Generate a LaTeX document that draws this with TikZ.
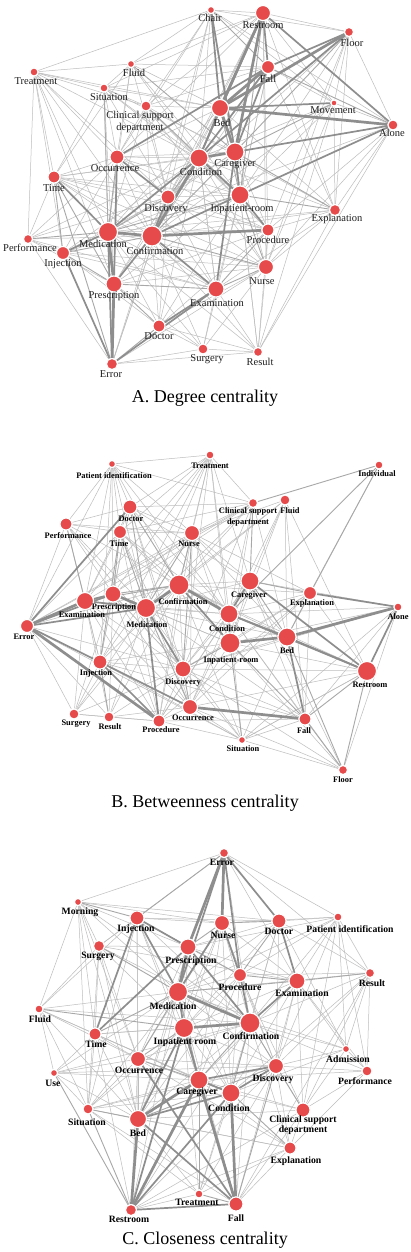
\documentclass[tikz,border=0pt]{standalone}
\usepackage{fontspec}
\setmainfont{Liberation Serif}
\usetikzlibrary{backgrounds}
\definecolor{nodered}{HTML}{E64A4A}
\definecolor{ethin}{HTML}{BDBDBD}
\definecolor{emid}{HTML}{A8A8A8}
\definecolor{ethick}{HTML}{8E8E8E}
\newcommand\mknode[8]{\node[dot=#4] (#1) at (#2,#3) {}; \node[#7] (#1L) at (#5,#6) {#8};}
\begin{document}
\begin{tikzpicture}[x=1pt,y=-1pt,
  dot/.style={circle, fill=nodered, draw=white, line width=1.1pt, inner sep=0pt, minimum size=#1},
  la/.style={font=\fontsize{10.5}{12}\selectfont, inner sep=0pt, align=center, text=black!88},
  lb/.style={font=\bfseries\fontsize{8.4}{10.5}\selectfont, inner sep=0pt, align=center},
  lc/.style={font=\bfseries\fontsize{9.7}{8.6}\selectfont, inner sep=0pt, align=center},
  ttl/.style={font=\fontsize{18}{20}\selectfont, inner sep=0pt},
  ea/.style={draw=ethin, line width=0.5pt},
  eb/.style={draw=emid, line width=0.9pt},
  ec/.style={draw=ethick, line width=1.7pt},
  ed/.style={draw=ethick, line width=2.7pt}]
\useasboundingbox (0,0) rectangle (410,1252);
\begin{scope}[on background layer]
\fill[white] (0,0) rectangle (410,1252);
\end{scope}

% ---------------- Panel A ----------------
\mknode{aChair}{211}{10}{7}{210}{18}{la}{Chair}
\mknode{aRestroom}{263}{13}{15}{263}{25}{la}{Restroom}
\mknode{aFloor}{349}{32}{9}{352}{43}{la}{Floor}
\mknode{aFall}{268}{67}{13}{268}{79}{la}{Fall}
\mknode{aMovement}{334}{103}{6}{333}{110}{la}{Movement}
\mknode{aAlone}{393}{125}{10}{392}{133}{la}{Alone}
\mknode{aBed}{220}{108}{17}{222}{123}{la}{Bed}
\mknode{aCaregiver}{235}{152}{18}{235}{164}{la}{Caregiver}
\mknode{aCondition}{199}{158}{18}{201}{172}{la}{Condition}
\mknode{aInpatient}{240}{195}{18}{242}{209}{la}{Inpatient-room}
\mknode{aExplanation}{335}{210}{11}{337}{219}{la}{Explanation}
\mknode{aProcedure}{268}{230}{12}{268}{240}{la}{Procedure}
\mknode{aNurse}{266}{267}{15}{262}{281}{la}{Nurse}
\mknode{aExamination}{216}{289}{16}{217}{303}{la}{Examination}
\mknode{aResult}{258}{352}{9}{260}{362}{la}{Result}
\mknode{aSurgery}{203}{349}{10}{207}{359}{la}{Surgery}
\mknode{aDoctor}{159}{326}{12}{159}{336}{la}{Doctor}
\mknode{aError}{112}{364}{11}{111}{374}{la}{Error}
\mknode{aPrescription}{114}{284}{16}{114}{296}{la}{Prescription}
\mknode{aInjection}{63}{253}{13}{63}{264}{la}{Injection}
\mknode{aPerformance}{28}{239}{9}{30}{248}{la}{Performance}
\mknode{aMedication}{108}{232}{19}{103}{244}{la}{Medication}
\mknode{aConfirmation}{152}{236}{20}{155}{251}{la}{Confirmation}
\mknode{aDiscovery}{168}{197}{14}{166}{209}{la}{Discovery}
\mknode{aTime}{54}{177}{12}{54}{188}{la}{Time}
\mknode{aOccurrence}{117}{157}{14}{115}{168}{la}{Occurrence}
\mknode{aClinical}{146}{106}{10}{140}{122}{la}{Clinical support\\department}
\mknode{aSituation}{104}{88}{8}{109}{97}{la}{Situation}
\mknode{aFluid}{131}{64}{7}{134}{73}{la}{Fluid}
\mknode{aTreatment}{34}{72}{8}{36}{81}{la}{Treatment}
\node[ttl] (titleA) at (205,398) {A. Degree centrality};

\begin{scope}[on background layer]
\foreach \u/\v in {aTreatment/aChair, aTreatment/aSituation, aTreatment/aClinical, aTreatment/aTime, aTreatment/aPerformance, aTreatment/aMedication, aTreatment/aOccurrence, aTreatment/aInjection, aTreatment/aCondition, aTreatment/aDiscovery, aTreatment/aFluid, aTreatment/aPrescription,
aFluid/aRestroom, aFluid/aBed, aFluid/aSituation, aFluid/aOccurrence, aFluid/aTime, aFluid/aCondition, aFluid/aChair, aFluid/aFall, aFluid/aInpatient,
aSituation/aTime, aSituation/aBed, aSituation/aFall, aSituation/aRestroom, aSituation/aCondition, aSituation/aOccurrence, aSituation/aMedication, aSituation/aDiscovery, aSituation/aInpatient, aSituation/aClinical,
aClinical/aBed, aClinical/aConfirmation, aClinical/aDiscovery, aClinical/aCondition, aClinical/aChair, aClinical/aRestroom, aClinical/aFall, aClinical/aMedication, aClinical/aProcedure, aClinical/aExplanation,
aChair/aRestroom, aChair/aFloor, aChair/aCondition, aChair/aMovement, aChair/aInpatient, aChair/aOccurrence, aChair/aAlone,
aRestroom/aFloor, aRestroom/aMovement, aRestroom/aConfirmation, aRestroom/aExplanation, aRestroom/aNurse, aRestroom/aProcedure, aRestroom/aDiscovery,
aFloor/aAlone, aFloor/aMovement, aFloor/aInpatient, aFloor/aExplanation, aFloor/aProcedure, aFloor/aDiscovery, aFloor/aNurse,
aMovement/aFall, aMovement/aInpatient, aMovement/aNurse, aMovement/aResult, aMovement/aCondition, aMovement/aAlone, aMovement/aExplanation,
aAlone/aExplanation, aAlone/aProcedure, aAlone/aCondition, aAlone/aNurse, aAlone/aResult,
aExplanation/aProcedure, aExplanation/aNurse, aExplanation/aResult, aExplanation/aExamination, aExplanation/aCondition, aExplanation/aConfirmation, aExplanation/aFall,
aResult/aNurse, aResult/aExamination, aResult/aSurgery, aResult/aDoctor, aResult/aConfirmation, aResult/aProcedure, aResult/aMedication, aResult/aInpatient, aResult/aError,
aSurgery/aError, aSurgery/aExamination, aSurgery/aDoctor, aSurgery/aConfirmation, aSurgery/aPrescription, aSurgery/aNurse, aSurgery/aMedication,
aDoctor/aConfirmation, aDoctor/aNurse, aDoctor/aMedication, aDoctor/aInjection, aDoctor/aProcedure, aDoctor/aDiscovery,
aError/aConfirmation, aError/aNurse, aError/aPerformance, aError/aDiscovery,
aPerformance/aTime, aPerformance/aInjection, aPerformance/aConfirmation, aPerformance/aPrescription, aPerformance/aOccurrence, aPerformance/aDiscovery, aPerformance/aCondition,
aInjection/aDiscovery, aInjection/aOccurrence, aInjection/aExamination, aInjection/aInpatient,
aTime/aOccurrence, aTime/aDiscovery, aTime/aConfirmation, aTime/aCondition, aTime/aInpatient, aTime/aCaregiver, aTime/aProcedure,
aOccurrence/aCondition, aOccurrence/aConfirmation, aOccurrence/aCaregiver, aOccurrence/aInpatient, aOccurrence/aBed, aOccurrence/aRestroom,
aDiscovery/aCaregiver, aDiscovery/aInpatient, aDiscovery/aExamination, aDiscovery/aProcedure, aDiscovery/aBed, aDiscovery/aNurse, aDiscovery/aPrescription,
aNurse/aCaregiver, aNurse/aCondition, aNurse/aProcedure, aNurse/aPrescription, aNurse/aMedication,
aProcedure/aCaregiver, aProcedure/aMedication, aProcedure/aPrescription, aProcedure/aCondition,
aExamination/aMedication, aExamination/aInpatient, aExamination/aCondition,
aInpatient/aPrescription, aInpatient/aFall, aCondition/aPrescription, aCondition/aExamination,
aCaregiver/aMedication, aBed/aConfirmation, aBed/aMedication, aFall/aInpatient, aFall/aConfirmation,
aTreatment/aBed, aTreatment/aConfirmation, aFluid/aMedication, aFluid/aDiscovery, aSituation/aPrescription, aSituation/aCaregiver, aClinical/aOccurrence, aClinical/aNurse, aChair/aDiscovery, aChair/aConfirmation, aPerformance/aExamination, aInjection/aNurse, aInjection/aCondition, aTime/aNurse, aTime/aExamination, aOccurrence/aExamination, aOccurrence/aProcedure, aDiscovery/aError, aDoctor/aCondition, aDoctor/aInpatient, aSurgery/aInpatient, aResult/aCaregiver, aExplanation/aMedication, aExplanation/aBed, aMovement/aConfirmation, aAlone/aMedication}
  \draw[ea] (\u) -- (\v);
\foreach \u/\v in {aSituation/aError, aTime/aPrescription, aConfirmation/aNurse, aMedication/aInpatient, aDiscovery/aMedication, aInjection/aPrescription, aPrescription/aDoctor, aPrescription/aExamination, aError/aDoctor, aTime/aError, aMovement/aCaregiver, aFloor/aCaregiver, aFall/aAlone, aCaregiver/aExplanation, aInpatient/aExplanation, aProcedure/aExamination, aNurse/aExamination, aNurse/aInpatient, aMedication/aOccurrence, aRestroom/aInpatient, aChair/aFall, aFluid/aCaregiver, aClinical/aInpatient, aCondition/aDiscovery, aInjection/aConfirmation, aPerformance/aMedication, aOccurrence/aPrescription, aBed/aInpatient, aInjection/aTime, aConfirmation/aCaregiver}
  \draw[eb] (\u) -- (\v);
\foreach \u/\v in {aRestroom/aFall, aRestroom/aAlone, aFloor/aCondition, aFloor/aFall, aFall/aCaregiver, aFall/aCondition, aBed/aCondition, aBed/aMovement, aCaregiver/aAlone, aInpatient/aAlone, aChair/aBed, aChair/aCaregiver, aOccurrence/aFall, aOccurrence/aError, aMedication/aError, aConfirmation/aExamination, aConfirmation/aPrescription, aDoctor/aExamination, aError/aInjection, aTime/aMedication, aDiscovery/aOccurrence, aConfirmation/aInpatient, aCondition/aInpatient, aMedication/aInjection, aExamination/aCaregiver, aError/aExamination, aCondition/aMedication, aDiscovery/aConfirmation, aRestroom/aCondition, aCaregiver/aInpatient, aProcedure/aInpatient}
  \draw[ec] (\u) -- (\v);
\foreach \u/\v in {aRestroom/aBed, aRestroom/aCaregiver, aFloor/aBed, aFall/aBed, aBed/aAlone, aMedication/aPrescription, aMedication/aConfirmation, aPrescription/aError, aConfirmation/aProcedure, aCondition/aCaregiver, aBed/aCaregiver, aCondition/aConfirmation}
  \draw[ed] (\u) -- (\v);
\end{scope}

% ---------------- Panel B ----------------
\mknode{bPatientId}{112}{464}{7}{114}{476}{lb}{Patient identification}
\mknode{bTreatment}{210}{455}{8}{210}{466}{lb}{Treatment}
\mknode{bIndividual}{379}{465}{8}{377}{474}{lb}{Individual}
\mknode{bClinical}{253}{503}{9}{248}{517}{lb}{Clinical support\\department}
\mknode{bFluid}{285}{500}{10}{290}{511}{lb}{Fluid}
\mknode{bDoctor}{130}{507}{14}{131}{519}{lb}{Doctor}
\mknode{bPerformance}{66}{524}{12}{68}{536}{lb}{Performance}
\mknode{bTime}{120}{532}{13}{119}{544}{lb}{Time}
\mknode{bNurse}{192}{533}{15}{189}{544}{lb}{Nurse}
\mknode{bConfirmation}{179}{585}{20}{183}{602}{lb}{Confirmation}
\mknode{bCaregiver}{250}{581}{18}{249}{596}{lb}{Caregiver}
\mknode{bExplanation}{310}{593}{13}{312}{603}{lb}{Explanation}
\mknode{bAlone}{398}{607}{8}{398}{617}{lb}{Alone}
\mknode{bExamination}{85}{601}{17}{82}{615}{lb}{Examination}
\mknode{bPrescription}{113}{594}{16}{114}{607}{lb}{Prescription}
\mknode{bMedication}{146}{608}{19}{147}{625}{lb}{Medication}
\mknode{bError}{27}{626}{13}{24}{637}{lb}{Error}
\mknode{bCondition}{229}{614}{18}{227}{629}{lb}{Condition}
\mknode{bInpatient}{230}{643}{20}{231}{660}{lb}{Inpatient-room}
\mknode{bBed}{287}{637}{18}{287}{651}{lb}{Bed}
\mknode{bRestroom}{367}{671}{19}{370}{685}{lb}{Restroom}
\mknode{bInjection}{100}{662}{14}{96}{673}{lb}{Injection}
\mknode{bDiscovery}{183}{669}{16}{183}{682}{lb}{Discovery}
\mknode{bOccurrence}{190}{707}{15}{193}{718}{lb}{Occurrence}
\mknode{bSurgery}{74}{714}{10}{76}{724}{lb}{Surgery}
\mknode{bResult}{109}{717}{10}{110}{727}{lb}{Result}
\mknode{bProcedure}{159}{721}{12}{161}{730}{lb}{Procedure}
\mknode{bFall}{305}{719}{12}{304}{731}{lb}{Fall}
\mknode{bSituation}{242}{740}{7}{243}{749}{lb}{Situation}
\mknode{bFloor}{343}{770}{9}{343}{780}{lb}{Floor}
\node[ttl] (titleB) at (205,803) {B. Betweenness centrality};

\begin{scope}[on background layer]
\foreach \u/\v in {bPatientId/bDoctor, bPatientId/bTime, bPatientId/bPerformance, bPatientId/bNurse, bPatientId/bConfirmation, bPatientId/bExamination, bPatientId/bPrescription, bPatientId/bMedication, bPatientId/bTreatment, bPatientId/bError, bPatientId/bClinical,
bTreatment/bDoctor, bTreatment/bTime, bTreatment/bNurse, bTreatment/bConfirmation, bTreatment/bClinical, bTreatment/bMedication, bTreatment/bCondition, bTreatment/bCaregiver, bTreatment/bInjection, bTreatment/bDiscovery, bTreatment/bPrescription,
bClinical/bConfirmation, bClinical/bCondition, bClinical/bInpatient, bClinical/bNurse, bClinical/bDoctor, bClinical/bTime, bClinical/bBed, bClinical/bDiscovery, bClinical/bMedication, bClinical/bPrescription, bClinical/bExamination, bClinical/bError,
bFluid/bCaregiver, bFluid/bBed, bFluid/bCondition, bFluid/bInpatient, bFluid/bRestroom, bFluid/bConfirmation, bFluid/bFall, bFluid/bNurse, bFluid/bMedication,
bDoctor/bTime, bDoctor/bNurse, bDoctor/bPrescription, bDoctor/bExamination, bDoctor/bDiscovery, bDoctor/bInjection, bDoctor/bCaregiver, bDoctor/bPerformance,
bPerformance/bTime, bPerformance/bPrescription, bPerformance/bMedication, bPerformance/bError, bPerformance/bInjection, bPerformance/bConfirmation, bPerformance/bNurse,
bTime/bNurse, bTime/bConfirmation, bTime/bExamination, bTime/bDiscovery, bTime/bProcedure, bTime/bOccurrence, bTime/bCondition, bTime/bError,
bNurse/bCaregiver, bNurse/bCondition, bNurse/bInpatient, bNurse/bPrescription, bNurse/bBed, bNurse/bProcedure, bNurse/bExplanation, bNurse/bError, bNurse/bInjection,
bCaregiver/bInpatient, bCaregiver/bConfirmation, bCaregiver/bDiscovery, bCaregiver/bAlone, bCaregiver/bFall, bCaregiver/bMedication, bCaregiver/bOccurrence,
bExplanation/bCondition, bExplanation/bInpatient, bExplanation/bRestroom, bExplanation/bConfirmation, bExplanation/bProcedure, bExplanation/bOccurrence, bExplanation/bFall,
bAlone/bCondition, bAlone/bInpatient, bAlone/bFall, bAlone/bFloor, bAlone/bSituation,
bExamination/bInjection, bExamination/bResult, bExamination/bSurgery, bExamination/bProcedure, bExamination/bDiscovery,
bError/bSurgery, bError/bResult, bError/bConfirmation, bError/bDiscovery, bError/bOccurrence,
bSurgery/bInjection, bSurgery/bResult, bSurgery/bMedication, bSurgery/bPrescription, bSurgery/bProcedure, bSurgery/bConfirmation,
bResult/bProcedure, bResult/bMedication, bResult/bDiscovery, bResult/bPrescription, bResult/bConfirmation,
bProcedure/bDiscovery, bProcedure/bOccurrence, bProcedure/bConfirmation, bProcedure/bCondition, bProcedure/bSituation, bProcedure/bPrescription,
bSituation/bCondition, bSituation/bDiscovery, bSituation/bBed, bSituation/bFall, bSituation/bMedication, bSituation/bConfirmation, bSituation/bInjection, bSituation/bOccurrence, bSituation/bRestroom, bSituation/bError,
bFloor/bInpatient, bFloor/bOccurrence, bFloor/bSituation, bFloor/bCaregiver, bFloor/bCondition,
bRestroom/bInpatient, bRestroom/bSituation, bRestroom/bDiscovery, bRestroom/bOccurrence,
bInpatient/bOccurrence, bInpatient/bMedication, bInpatient/bInjection, bInpatient/bPrescription,
bDiscovery/bConfirmation, bDiscovery/bCondition, bDiscovery/bInjection, bDiscovery/bPrescription,
bInjection/bConfirmation, bInjection/bPrescription, bFall/bCondition, bFall/bDiscovery, bFall/bMedication, bBed/bDiscovery, bBed/bConfirmation, bBed/bMedication, bCondition/bMedication, bCondition/bOccurrence, bIndividual/bBed,
bPatientId/bInjection, bPatientId/bCondition, bTreatment/bExamination, bTreatment/bInpatient, bDoctor/bCondition, bDoctor/bOccurrence, bTime/bInpatient, bNurse/bOccurrence, bPerformance/bDiscovery, bExamination/bOccurrence, bExamination/bCondition, bPrescription/bDiscovery, bPrescription/bOccurrence, bSurgery/bDiscovery, bResult/bOccurrence, bCaregiver/bProcedure, bExplanation/bDiscovery, bRestroom/bConfirmation, bAlone/bDiscovery, bFloor/bDiscovery, bFall/bProcedure, bFall/bInjection}
  \draw[ea] (\u) -- (\v);
\foreach \u/\v in {bFall/bFloor, bRestroom/bFloor, bInpatient/bFall, bIndividual/bExplanation, bIndividual/bClinical, bIndividual/bCondition, bCaregiver/bExplanation, bTime/bInjection, bDoctor/bMedication, bPerformance/bExamination, bNurse/bMedication, bDiscovery/bOccurrence, bMedication/bOccurrence, bTime/bPrescription, bTime/bMedication, bNurse/bConfirmation, bDiscovery/bInpatient, bPrescription/bConfirmation, bExamination/bConfirmation, bInjection/bResult, bNurse/bDiscovery, bCaregiver/bBed, bBed/bFloor, bFall/bRestroom, bClinical/bCaregiver, bSituation/bInpatient, bExplanation/bBed, bDoctor/bConfirmation}
  \draw[eb] (\u) -- (\v);
\foreach \u/\v in {bError/bPrescription, bError/bMedication, bError/bInjection, bError/bDoctor, bExamination/bPrescription, bMedication/bDiscovery, bMedication/bProcedure, bInjection/bProcedure, bCondition/bBed, bBed/bRestroom, bRestroom/bAlone, bCaregiver/bRestroom, bBed/bFall, bExplanation/bAlone, bCondition/bRestroom, bConfirmation/bInpatient, bCondition/bInpatient, bCaregiver/bCondition, bInjection/bOccurrence, bExamination/bMedication}
  \draw[ec] (\u) -- (\v);
\foreach \u/\v in {bError/bExamination, bError/bProcedure, bPrescription/bMedication, bInpatient/bBed, bBed/bAlone, bOccurrence/bFall, bMedication/bConfirmation, bConfirmation/bCondition}
  \draw[ed] (\u) -- (\v);
\end{scope}

% ---------------- Panel C ----------------
\mknode{cError}{224}{853}{9}{222}{862}{lc}{Error}
\mknode{cMorning}{78}{902}{7}{80}{912}{lc}{Morning}
\mknode{cInjection}{137}{918}{14}{136}{929}{lc}{Injection}
\mknode{cNurse}{222}{923}{15}{223}{935}{lc}{Nurse}
\mknode{cDoctor}{279}{921}{14}{279}{931}{lc}{Doctor}
\mknode{cPatientId}{338}{917}{8}{350}{929}{lc}{Patient identification}
\mknode{cSurgery}{99}{946}{11}{98}{956}{lc}{Surgery}
\mknode{cPrescription}{188}{947}{16}{191}{961}{lc}{Prescription}
\mknode{cProcedure}{240}{975}{13}{240}{987}{lc}{Procedure}
\mknode{cExamination}{297}{981}{16}{302}{993}{lc}{Examination}
\mknode{cResult}{370}{973}{9}{372}{983}{lc}{Result}
\mknode{cFluid}{39}{1009}{8}{40}{1019}{lc}{Fluid}
\mknode{cMedication}{178}{992}{19}{173}{1006}{lc}{Medication}
\mknode{cConfirmation}{250}{1023}{20}{251}{1036}{lc}{Confirmation}
\mknode{cInpatient}{184}{1028}{19}{185}{1042}{lc}{Inpatient room}
\mknode{cTime}{95}{1034}{12}{96}{1044}{lc}{Time}
\mknode{cUse}{54}{1073}{7}{53}{1083}{lc}{Use}
\mknode{cOccurrence}{138}{1059}{15}{139}{1070}{lc}{Occurrence}
\mknode{cAdmission}{346}{1049}{7}{348}{1059}{lc}{Admission}
\mknode{cPerformance}{367}{1071}{10}{365}{1081}{lc}{Performance}
\mknode{cDiscovery}{276}{1066}{15}{273}{1079}{lc}{Discovery}
\mknode{cCaregiver}{199}{1080}{18}{197}{1092}{lc}{Caregiver}
\mknode{cCondition}{231}{1093}{18}{229}{1108}{lc}{Condition}
\mknode{cClinical}{303}{1110}{14}{303}{1125}{lc}{Clinical support\\department}
\mknode{cSituation}{88}{1109}{10}{87}{1122}{lc}{Situation}
\mknode{cBed}{138}{1119}{17}{138}{1133}{lc}{Bed}
\mknode{cExplanation}{290}{1148}{12}{296}{1161}{lc}{Explanation}
\mknode{cTreatment}{199}{1194}{8}{197}{1202}{lc}{Treatment}
\mknode{cRestroom}{131}{1210}{11}{129}{1219}{lc}{Restroom}
\mknode{cFall}{236}{1204}{14}{236}{1218}{lc}{Fall}
\node[ttl] (titleC) at (205,1240) {C. Closeness centrality};

\begin{scope}[on background layer]
\foreach \u/\v in {cError/cPatientId, cError/cResult, cError/cExamination, cError/cMorning, cError/cSurgery, cError/cConfirmation,
cMorning/cSurgery, cMorning/cPrescription, cMorning/cNurse, cMorning/cDoctor, cMorning/cTime, cMorning/cFluid, cMorning/cMedication, cMorning/cSituation, cMorning/cOccurrence,
cInjection/cNurse, cInjection/cDoctor, cInjection/cSurgery, cInjection/cProcedure, cInjection/cConfirmation, cInjection/cOccurrence, cInjection/cSituation, cInjection/cBed, cInjection/cFluid,
cNurse/cConfirmation, cNurse/cExamination, cNurse/cCaregiver, cNurse/cCondition, cNurse/cPatientId, cNurse/cInpatient, cNurse/cBed,
cDoctor/cPatientId, cDoctor/cMedication, cDoctor/cConfirmation, cDoctor/cPrescription, cDoctor/cResult, cDoctor/cAdmission, cDoctor/cDiscovery,
cPatientId/cResult, cPatientId/cExamination, cPatientId/cProcedure, cPatientId/cConfirmation, cPatientId/cMedication, cPatientId/cAdmission, cPatientId/cPerformance, cPatientId/cPrescription,
cSurgery/cPrescription, cSurgery/cConfirmation, cSurgery/cTime, cSurgery/cFluid, cSurgery/cExamination, cSurgery/cInpatient, cSurgery/cOccurrence,
cPrescription/cExamination, cPrescription/cInpatient, cPrescription/cOccurrence, cPrescription/cBed, cPrescription/cCondition,
cProcedure/cMedication, cProcedure/cInpatient, cProcedure/cCaregiver, cProcedure/cDiscovery, cProcedure/cCondition, cProcedure/cResult,
cExamination/cAdmission, cExamination/cPerformance, cExamination/cDiscovery, cExamination/cInpatient, cExamination/cCondition, cExamination/cClinical,
cResult/cConfirmation, cResult/cAdmission, cResult/cPerformance, cResult/cDiscovery, cResult/cClinical, cResult/cFall, cResult/cMedication,
cFluid/cTime, cFluid/cMedication, cFluid/cConfirmation, cFluid/cOccurrence, cFluid/cSituation, cFluid/cUse, cFluid/cCaregiver, cFluid/cBed,
cMedication/cCondition, cMedication/cDiscovery, cMedication/cBed, cMedication/cSituation, cMedication/cAdmission,
cConfirmation/cAdmission, cConfirmation/cPerformance, cConfirmation/cClinical, cConfirmation/cBed, cConfirmation/cOccurrence, cConfirmation/cExplanation,
cInpatient/cTime, cInpatient/cCondition, cInpatient/cDiscovery, cInpatient/cSituation,
cTime/cOccurrence, cTime/cUse, cTime/cSituation, cTime/cBed, cTime/cCaregiver, cTime/cConfirmation,
cUse/cSituation, cUse/cOccurrence, cUse/cBed, cUse/cMedication, cUse/cConfirmation, cUse/cCaregiver,
cOccurrence/cSituation, cOccurrence/cBed, cOccurrence/cCondition, cOccurrence/cDiscovery,
cAdmission/cPerformance, cAdmission/cDiscovery, cAdmission/cClinical, cAdmission/cCondition,
cPerformance/cDiscovery, cPerformance/cClinical, cPerformance/cExplanation, cPerformance/cCaregiver,
cDiscovery/cExplanation, cDiscovery/cSituation, cDiscovery/cTreatment,
cCaregiver/cSituation, cCaregiver/cExplanation, cCaregiver/cClinical,
cCondition/cClinical, cCondition/cSituation, cCondition/cTreatment,
cClinical/cExplanation, cClinical/cBed, cClinical/cFall, cClinical/cRestroom,
cSituation/cFall, cSituation/cTreatment, cBed/cTreatment, cBed/cExplanation,
cExplanation/cFall, cExplanation/cTreatment, cExplanation/cRestroom,
cTreatment/cRestroom, cFall/cConfirmation, cRestroom/cMedication, cRestroom/cOccurrence, cRestroom/cTime, cRestroom/cDiscovery,
cMorning/cBed, cMorning/cConfirmation, cInjection/cInpatient, cInjection/cCaregiver, cNurse/cOccurrence, cNurse/cDiscovery, cDoctor/cInpatient, cDoctor/cCondition, cPatientId/cDiscovery, cPatientId/cClinical, cSurgery/cBed, cSurgery/cSituation, cProcedure/cBed, cProcedure/cClinical, cExamination/cCaregiver, cExamination/cFall, cResult/cCondition, cTime/cCondition, cUse/cDiscovery, cOccurrence/cExplanation, cSituation/cExplanation, cTreatment/cConfirmation, cTreatment/cInpatient, cFall/cMedication, cRestroom/cConfirmation}
  \draw[ea] (\u) -- (\v);
\foreach \u/\v in {cInjection/cError, cMorning/cInjection, cPrescription/cNurse, cSurgery/cMedication, cDoctor/cNurse, cDoctor/cProcedure, cExamination/cResult, cExamination/cMedication, cDiscovery/cConfirmation, cDiscovery/cClinical, cCondition/cConfirmation, cTime/cMedication, cOccurrence/cInpatient, cOccurrence/cCaregiver, cSituation/cBed, cSituation/cRestroom, cUse/cRestroom, cBed/cDiscovery, cTreatment/cCaregiver, cTreatment/cFall, cFall/cDiscovery, cProcedure/cExamination, cPrescription/cProcedure, cMedication/cOccurrence, cMedication/cCaregiver, cConfirmation/cCaregiver, cFluid/cInpatient, cCondition/cExplanation}
  \draw[eb] (\u) -- (\v);
\foreach \u/\v in {cError/cProcedure, cError/cMedication, cError/cDoctor, cRestroom/cCondition, cRestroom/cFall, cFall/cBed, cInjection/cMedication, cInjection/cPrescription, cConfirmation/cExamination, cNurse/cMedication, cNurse/cProcedure, cCondition/cCaregiver, cCaregiver/cDiscovery, cBed/cCondition, cInpatient/cMedication, cOccurrence/cFall, cConfirmation/cProcedure, cTime/cPrescription, cFall/cInpatient, cInjection/cTime, cPrescription/cConfirmation, cBed/cInpatient, cRestroom/cInpatient, cCondition/cDiscovery, cExamination/cDoctor, cCaregiver/cInpatient}
  \draw[ec] (\u) -- (\v);
\foreach \u/\v in {cError/cNurse, cError/cPrescription, cRestroom/cBed, cRestroom/cCaregiver, cFall/cCaregiver, cMedication/cConfirmation, cPrescription/cMedication, cBed/cCaregiver, cInpatient/cConfirmation, cFall/cCondition}
  \draw[ed] (\u) -- (\v);
\end{scope}
\end{tikzpicture}
\end{document}
